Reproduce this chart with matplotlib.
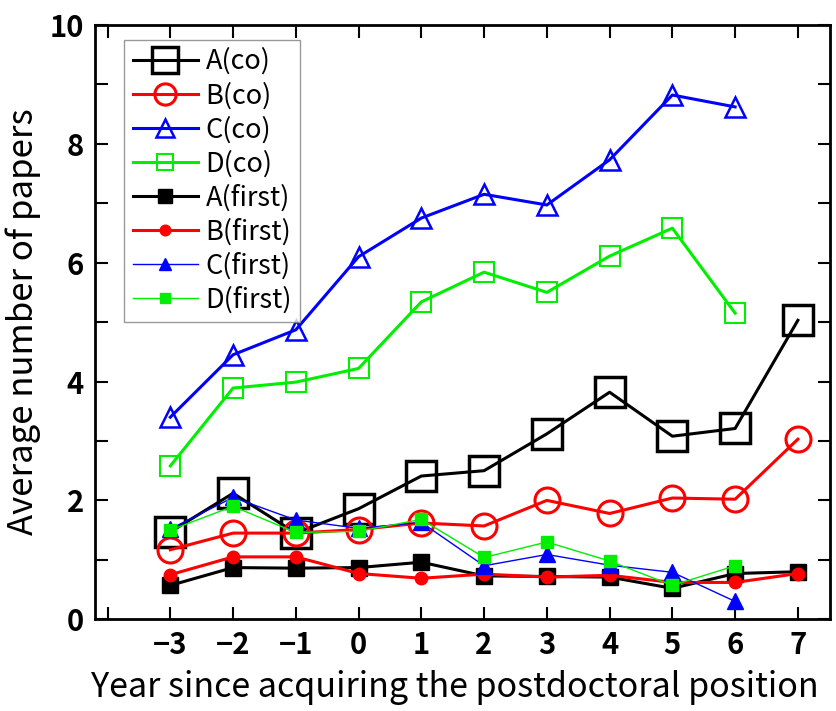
import numpy as np
import matplotlib
matplotlib.use("Agg")
import matplotlib.pyplot as plt
from matplotlib.ticker import FixedLocator, FuncFormatter

plt.rcParams['font.family'] = ['Noto Sans CJK JP', 'DejaVu Sans']

years = [-3, -2, -1, 0, 1, 2, 3, 4, 5, 6, 7]

# co-authored papers
a_co = [1.47, 2.12, 1.45, 1.86, 2.41, 2.50, 3.12, 3.82, 3.08, 3.21, 5.03]
b_co = [1.17, 1.45, 1.45, 1.51, 1.62, 1.57, 2.00, 1.78, 2.04, 2.02, 3.03]
c_co = [3.40, 4.45, 4.87, 6.10, 6.75, 7.15, 6.97, 7.73, 8.82, 8.62]
d_co = [2.58, 3.89, 3.99, 4.22, 5.34, 5.84, 5.50, 6.11, 6.58, 5.15]

# first-author papers
a_first = [0.57, 0.87, 0.86, 0.87, 0.96, 0.73, 0.72, 0.71, 0.52, 0.77, 0.80]
b_first = [0.75, 1.05, 1.05, 0.77, 0.69, 0.76, 0.71, 0.74, 0.62, 0.62, 0.77]
c_first = [1.52, 2.05, 1.67, 1.53, 1.63, 0.90, 1.09, 0.91, 0.79, 0.30]
d_first = [1.50, 1.90, 1.46, 1.48, 1.68, 1.04, 1.30, 0.98, 0.57, 0.90]

fig = plt.figure(figsize=(8.37, 7.11), dpi=100)
ax = fig.add_axes([0.1135, 0.129, 0.878, 0.836])

ax.plot(years, a_co, color='black', lw=2.2, marker='s', ms=22, mfc='none', mec='black', mew=2.5, label='A(co)')
ax.plot(years, b_co, color='red', lw=2.2, marker='o', ms=18, mfc='none', mec='red', mew=2.2, label='B(co)')
ax.plot(years[:10], c_co, color='blue', lw=2.2, marker='^', ms=15, mfc='none', mec='blue', mew=1.8, label='C(co)')
ax.plot(years[:10], d_co, color='#00ee00', lw=2.2, marker='s', ms=14, mfc='none', mec='#00ee00', mew=1.5, label='D(co)')
ax.plot(years, a_first, color='black', lw=2.2, marker='s', ms=12, label='A(first)')
ax.plot(years, b_first, color='red', lw=2.2, marker='o', ms=9, label='B(first)')
ax.plot(years[:10], c_first, color='blue', lw=1.0, marker='^', ms=11, label='C(first)')
ax.plot(years[:10], d_first, color='#00ee00', lw=1.0, marker='s', ms=9, label='D(first)')

ax.set_xlim(-4.2, 7.51)
ax.set_ylim(0, 10)
ax.xaxis.set_major_locator(FixedLocator(range(-4, 8)))
ax.xaxis.set_major_formatter(FuncFormatter(lambda v, p: '' if v < -3 else f'{int(v)}'.replace('-', '\u2212')))
ax.yaxis.set_major_locator(FixedLocator(range(0, 11)))
ax.yaxis.set_major_formatter(FuncFormatter(lambda v, p: f'{int(v)}' if int(v) % 2 == 0 else ''))
ax.tick_params(direction='in', length=9, width=1.5, top=True, right=True,
               labeltop=False, labelright=False, labelsize=21, pad=8)
for lab in ax.get_xticklabels() + ax.get_yticklabels():
    lab.set_fontweight('bold')
for s in ax.spines.values():
    s.set_linewidth(2)

ax.set_xlabel('Year since acquiring the postdoctoral position', fontsize=24.5, labelpad=10)
ax.xaxis.set_label_coords(0.49, -0.085)
ax.set_ylabel('Average number of papers', fontsize=25, labelpad=6)

leg = ax.legend(loc='upper left', bbox_to_anchor=(0.04, 0.975), fontsize=19.5, frameon=True,
                fancybox=False, edgecolor='gray', handlelength=2.4, labelspacing=0.25,
                borderpad=0.3, handletextpad=0.3, markerscale=0.85, borderaxespad=0)
leg.get_frame().set_linewidth(1)

fig.savefig('out.png', dpi=100)
